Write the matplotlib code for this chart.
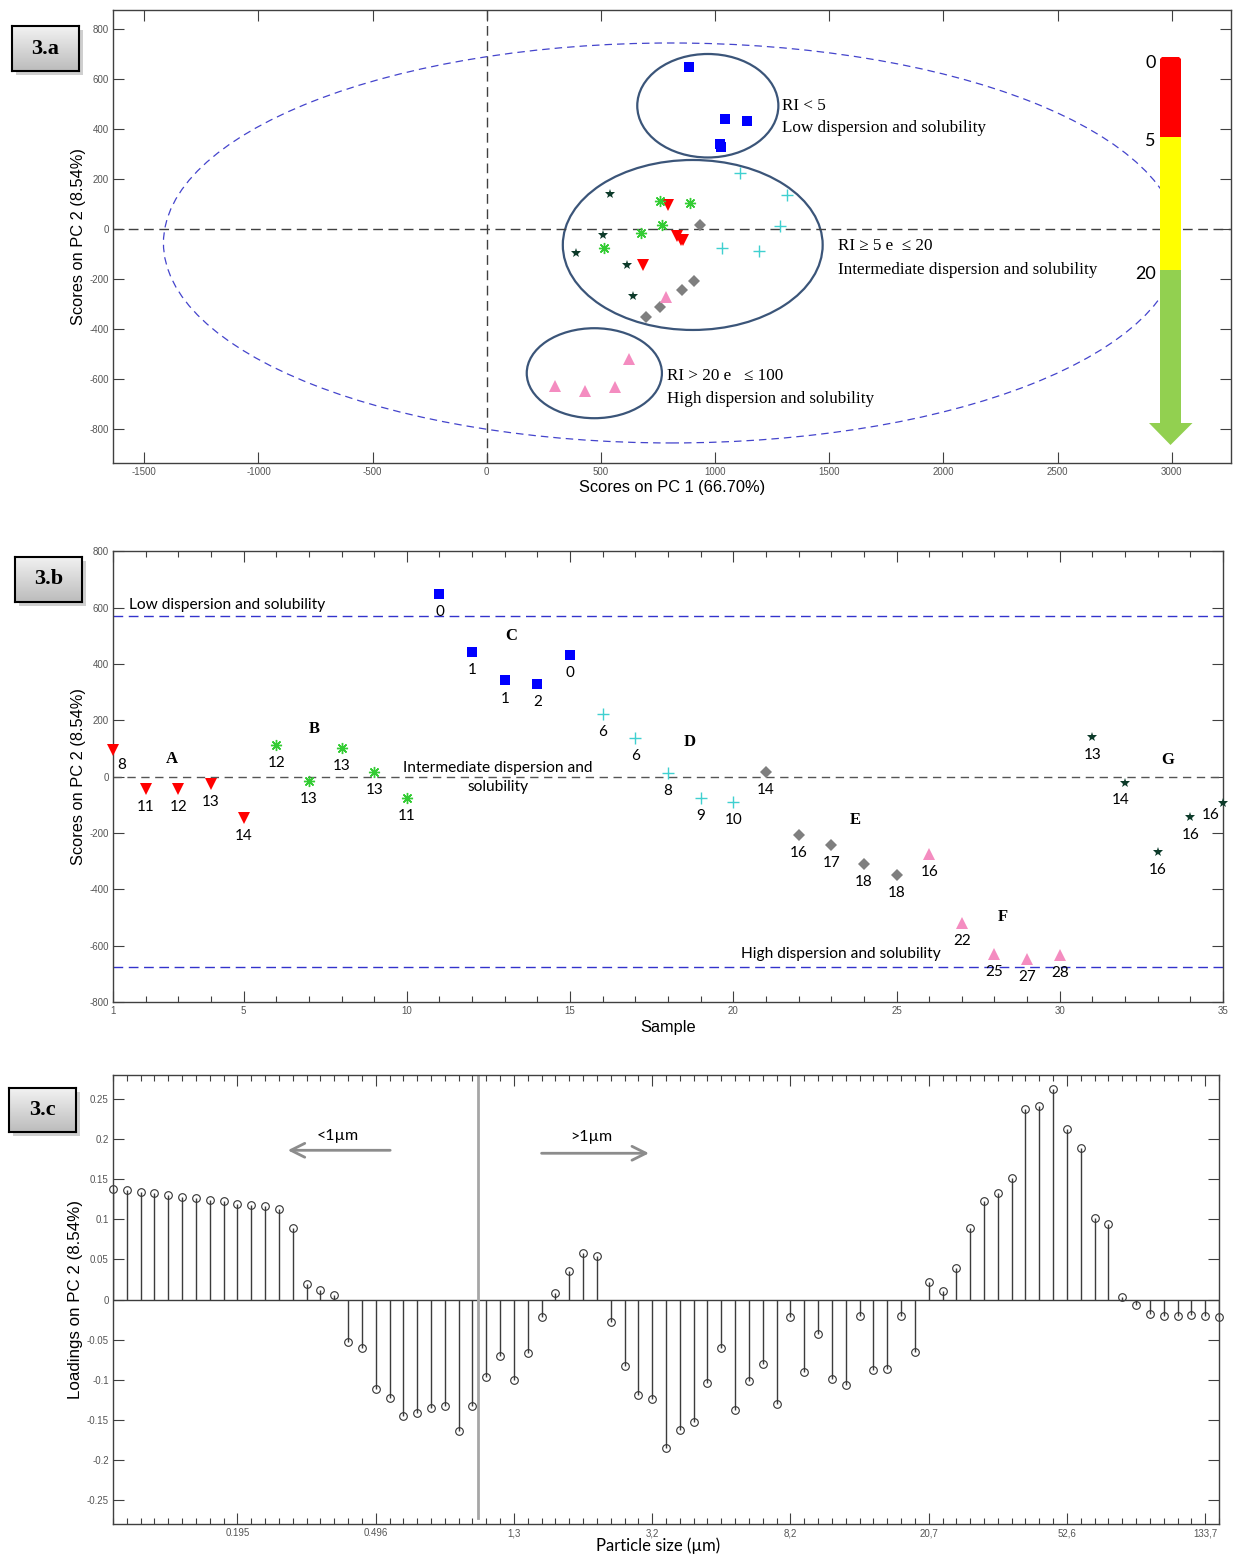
import numpy as np
import matplotlib
matplotlib.use('Agg')
import matplotlib.pyplot as plt
from matplotlib.patches import Ellipse, Polygon, Rectangle
from matplotlib.colors import LinearSegmentedColormap
from matplotlib.ticker import MultipleLocator

plt.rcParams['axes.unicode_minus'] = False
W, H = 1237, 1555

# ---- data -------------------------------------------------------------
groups = ['A', 'B', 'C', 'D', 'E', 'F', 'G']
sample_idx = {
    'A': [1, 2, 3, 4, 5],
    'B': [6, 7, 8, 9, 10],
    'C': [11, 12, 13, 14, 15],
    'D': [16, 17, 18, 19, 20],
    'E': [21, 22, 23, 24, 25],
    'F': [26, 27, 28, 29, 30],
    'G': [31, 32, 33, 34, 35],
}
pc1 = {
    'A': [795, 850, 861, 835, 686],
    'B': [760, 676, 892, 769, 514],
    'C': [887, 1044, 1022, 1026, 1141],
    'D': [1111, 1314, 1285, 1028, 1191],
    'E': [934, 908, 857, 759, 698],
    'F': [785, 622, 298, 429, 563],
    'G': [540, 508, 642, 616, 391],
}
pc2 = {
    'A': [95, -45, -45, -27, -145],
    'B': [113, -14, 103, 18, -75],
    'C': [648, 442, 342, 328, 433],
    'D': [223, 137, 14, -77, -89],
    'E': [18, -207, -243, -310, -350],
    'F': [-273, -521, -628, -646, -632],
    'G': [140, -22, -267, -142, -95],
}
ri_labels = {
    'A': [8, 11, 12, 13, 14],
    'B': [12, 13, 13, 13, 11],
    'C': [0, 1, 1, 2, 0],
    'D': [6, 6, 8, 9, 10],
    'E': [14, 16, 17, 18, 18],
    'F': [16, 22, 25, 27, 28],
    'G': [13, 14, 16, 16, 16],
}
low_limit = 571
high_limit = -676

loadings = [0.138, 0.136, 0.134, 0.132, 0.130, 0.128, 0.126, 0.124, 0.122, 0.119,
            0.118, 0.116, 0.113, 0.089, 0.0195, 0.0116, 0.005, -0.053, -0.060, -0.112,
            -0.122, -0.145, -0.141, -0.135, -0.133, -0.164, -0.133, -0.096, -0.0705, -0.100,
            -0.067, -0.0216, 0.0083, 0.035, 0.0576, 0.0547, -0.028, -0.0825, -0.119, -0.124,
            -0.1845, -0.1625, -0.152, -0.1045, -0.060, -0.1376, -0.102, -0.080, -0.1306, -0.0216,
            -0.090, -0.0427, -0.0995, -0.107, -0.0203, -0.088, -0.086, -0.0203, -0.065, 0.022,
            0.0112, 0.039, 0.0887, 0.122, 0.133, 0.151, 0.237, 0.241, 0.262, 0.212,
            0.189, 0.102, 0.0945, 0.003, -0.0066, -0.0178, -0.020, -0.0203, -0.0187, -0.0203,
            -0.0224]
size_ticks = [10, 20, 30, 40, 50, 60, 70, 80]
size_labels = ['0.195', '0.496', '1,3', '3,2', '8,2', '20,7', '52,6', '133,7']

# ---- styles -----------------------------------------------------------
styles = {
    'A': dict(marker='v', color='#ff0000', ms=8, mew=0),
    'B': dict(marker=(8, 2, 0), color='#33cc33', ms=8, mew=1),
    'C': dict(marker='s', color='#0000ff', ms=7, mew=0),
    'D': dict(marker='+', color='#3fd0d0', ms=9, mew=1),
    'E': dict(marker='D', color='#7f7f7f', ms=6, mew=0),
    'F': dict(marker='^', color='#f48cc0', ms=8, mew=0),
    'G': dict(marker='*', color='#0d3b2a', ms=7, mew=0),
}
SANS = ['Liberation Sans', 'DejaVu Sans']
SERIF = ['Liberation Serif', 'DejaVu Serif']
CAL = ['Lato', 'DejaVu Sans']


def px(x, y):
    return x / W, 1 - y / H


def axes_box(left, top, right, bottom):
    x0, y1 = px(left, top)
    x1, y0 = px(right, bottom)
    return [x0, y0, x1 - x0, y1 - y0]


def matlab_axes(ax, major_len=8, minor_len=4):
    ax.tick_params(which='both', direction='in', top=True, right=True,
                   color='#404040', width=0.8, labelsize=7, labelcolor='#555555', pad=3)
    ax.tick_params(which='major', length=major_len)
    ax.tick_params(which='minor', length=minor_len)
    for s in ax.spines.values():
        s.set_color('#404040')
        s.set_linewidth(1)
    for lab in ax.get_xticklabels() + ax.get_yticklabels():
        lab.set_family(SANS)


def label_box(fig, text, left, top, right, bottom):
    sx, sy = 4, 4
    x0, y0 = px(left + sx, bottom + sy)
    x1, y1 = px(right + sx, top + sy)
    fig.add_artist(Rectangle((x0, y0), x1 - x0, y1 - y0, transform=fig.transFigure,
                             facecolor='#777777', alpha=0.35, edgecolor='none', zorder=4))
    bax = fig.add_axes(axes_box(left, top, right, bottom), zorder=5)
    grad = np.linspace(0, 1, 64)[:, None]
    cmap = LinearSegmentedColormap.from_list('g', ['#f2f2f2', '#bcbcbc'])
    bax.imshow(grad, cmap=cmap, aspect='auto', extent=(0, 1, 0, 1))
    bax.set_xticks([])
    bax.set_yticks([])
    for s in bax.spines.values():
        s.set_linewidth(1.5)
        s.set_color('black')
    bax.text(0.5, 0.5, text, ha='center', va='center', fontsize=16,
             fontweight='bold', family=SERIF, transform=bax.transAxes)


fig = plt.figure(figsize=(W / 100, H / 100), dpi=100)

# ---- 3.a --------------------------------------------------------------
ax1 = fig.add_axes(axes_box(113, 10, 1230.7, 462.7))
ax1.set_xlim(-1637, 3258)
ax1.set_ylim(-934, 877)
ax1.set_xticks(np.arange(-1500, 3001, 500))
ax1.set_yticks(np.arange(-800, 801, 200))
matlab_axes(ax1, major_len=8)
ax1.axhline(0, color='#404040', lw=1, dashes=(7, 4))
ax1.axvline(0, color='#404040', lw=1, dashes=(7, 4))
ax1.add_patch(Ellipse((809, -55), 2 * 2225, 2 * 800, fill=False, edgecolor='#4444cc',
                      lw=0.9, ls=(0, (6, 4))))
for cx, cy, a, b in [(968, 494, 309, 207), (902, -63, 569, 340), (471, -576, 296, 180)]:
    ax1.add_patch(Ellipse((cx, cy), 2 * a, 2 * b, fill=False, edgecolor='#3b5579', lw=1.6))
for g in groups:
    st = styles[g]
    ax1.plot(pc1[g], pc2[g], ls='none', marker=st['marker'], color=st['color'],
             ms=st['ms'], mew=st['mew'], zorder=3)
ax1.set_xlabel('Scores on PC 1 (66.70%)', fontsize=11.8, family=SANS)
ax1.set_ylabel('Scores on PC 2 (8.54%)', fontsize=11.8, family=SANS)
ax1.xaxis.set_label_coords(0.5, -0.038)
ax1.yaxis.set_label_coords(-0.024, 0.5)
ax1.text(1292, 493, 'RI < 5', fontsize=12.3, family=SERIF, va='center')
ax1.text(1292, 405, 'Low dispersion and solubility', fontsize=12.3, family=SERIF, va='center')
ax1.text(1538, -67, 'RI \u2265 5 e  \u2264 20', fontsize=12.3, family=SERIF, va='center')
ax1.text(1538, -163, 'Intermediate dispersion and solubility', fontsize=12.3, family=SERIF, va='center')
ax1.text(789, -587, 'RI > 20 e   \u2264 100', fontsize=12.3, family=SERIF, va='center')
ax1.text(789, -679, 'High dispersion and solubility', fontsize=12.3, family=SERIF, va='center')

# colour arrow (RI scale)
def fig_poly(points, color):
    pts = [px(x, y) for x, y in points]
    fig.add_artist(Polygon(pts, closed=True, transform=fig.transFigure,
                           facecolor=color, edgecolor='none', zorder=6))

fig_poly([(1160, 137.3), (1160, 59), (1162, 57), (1179, 57), (1181, 59), (1181, 137.3)], '#ff0000')
fig_poly([(1160, 137.3), (1181, 137.3), (1181, 270), (1160, 270)], '#ffff00')
fig_poly([(1160, 270), (1181, 270), (1181, 423), (1192.5, 423), (1170.5, 445),
          (1149, 423), (1160, 423)], '#92d050')
for txt, x, y in [('0', 1151, 63), ('5', 1150, 141), ('20', 1146, 274)]:
    fx, fy = px(x, y)
    fig.text(fx, fy, txt, ha='center', va='center', fontsize=13, family=CAL, zorder=7)

# ---- 3.b --------------------------------------------------------------
ax2 = fig.add_axes(axes_box(113, 551.5, 1223, 1002))
ax2.set_xlim(1, 35)
ax2.set_ylim(-800, 800)
ax2.set_xticks([1, 5, 10, 15, 20, 25, 30, 35])
ax2.xaxis.set_minor_locator(MultipleLocator(1))
ax2.set_yticks(np.arange(-800, 801, 200))
matlab_axes(ax2, major_len=8, minor_len=4)
ax2.axhline(0, color='#555555', lw=1, dashes=(6, 4))
ax2.axhline(low_limit, color='#3333cc', lw=1, dashes=(7, 4))
ax2.axhline(high_limit, color='#3333cc', lw=1, dashes=(7, 4))
offsets = {1: (6, -11), 32: (-3, -12), 35: (-9, -8)}
for g in groups:
    st = styles[g]
    ax2.plot(sample_idx[g], pc2[g], ls='none', marker=st['marker'], color=st['color'],
             ms=st['ms'], mew=st['mew'], zorder=3, clip_on=False)
    for s, v, lab in zip(sample_idx[g], pc2[g], ri_labels[g]):
        ax2.annotate(str(lab), (s, v), xytext=offsets.get(s, (0, -13)), textcoords='offset points',
                     ha='center', va='center', fontsize=11, family=CAL)
for letter, x, y in [('A', 2.81, 63), ('B', 7.16, 169), ('C', 13.19, 501), ('D', 18.68, 124),
                     ('E', 23.74, -154), ('F', 28.25, -498), ('G', 33.3, 59)]:
    ax2.text(x, y, letter, ha='center', va='center', fontsize=12, fontweight='bold', family=SERIF)
ax2.text(1.5, 610, 'Low dispersion and solubility', fontsize=11.2, family=CAL, va='center')
ax2.text(12.8, -3, 'Intermediate dispersion and\nsolubility', fontsize=11.2, family=CAL,
         va='center', ha='center', linespacing=1.5)
ax2.text(23.3, -630, 'High dispersion and solubility', fontsize=11.2, family=CAL,
         va='center', ha='center')
ax2.set_xlabel('Sample', fontsize=11.8, family=SANS)
ax2.set_ylabel('Scores on PC 2 (8.54%)', fontsize=11.8, family=SANS)
ax2.xaxis.set_label_coords(0.5, -0.04)
ax2.yaxis.set_label_coords(-0.0243, 0.5)

# ---- 3.c --------------------------------------------------------------
ax3 = fig.add_axes(axes_box(113, 1075, 1219, 1524))
idx = np.arange(1, len(loadings) + 1)
ml, sl, bl = ax3.stem(idx, loadings, linefmt='-', markerfmt='o', basefmt='-')
plt.setp(sl, color='#3c3c3c', lw=1)
plt.setp(ml, markerfacecolor='none', markeredgecolor='#333333', ms=5.5, mew=0.8, clip_on=False)
plt.setp(bl, color='#3c3c3c', lw=1)
ax3.set_xlim(1, 81)
ax3.set_ylim(-0.2794, 0.2794)
ax3.set_xticks(size_ticks)
ax3.set_xticklabels(size_labels)
ax3.xaxis.set_minor_locator(MultipleLocator(1))
ax3.set_yticks(np.round(np.arange(-0.25, 0.251, 0.05), 2))
ax3.set_yticklabels(['-0.25', '-0.2', '-0.15', '-0.1', '-0.05', '0',
                     '0.05', '0.1', '0.15', '0.2', '0.25'])
matlab_axes(ax3, major_len=8, minor_len=4)
ax3.axvline(27.37, ymin=0.013, ymax=1, color='#a6a6a6', lw=2)
ax3.annotate('', xy=(13.44, 0.1857), xytext=(21.25, 0.1857),
             arrowprops=dict(arrowstyle='->,head_length=1.0,head_width=0.5', color='#8c8c8c', lw=2))
ax3.annotate('', xy=(39.97, 0.182), xytext=(31.8, 0.182),
             arrowprops=dict(arrowstyle='->,head_length=1.0,head_width=0.5', color='#8c8c8c', lw=2))
ax3.text(17.27, 0.204, '<1\u00b5m', ha='center', va='center', fontsize=11.5, family=CAL)
ax3.text(35.6, 0.202, '>1\u00b5m', ha='center', va='center', fontsize=11.5, family=CAL)
ax3.set_xlabel('Particle size (\u00b5m)', fontsize=12, family=CAL)
ax3.set_ylabel('Loadings on PC 2 (8.54%)', fontsize=12.2, family=SANS)
ax3.xaxis.set_label_coords(0.493, -0.031)
ax3.yaxis.set_label_coords(-0.027, 0.5)

# ---- panel tags ---------------------------------------------------------
label_box(fig, '3.a', 12, 26, 79, 71)
label_box(fig, '3.b', 15, 557, 82, 602)
label_box(fig, '3.c', 9, 1088, 76, 1132)

fig.savefig('out.png', dpi=100)
